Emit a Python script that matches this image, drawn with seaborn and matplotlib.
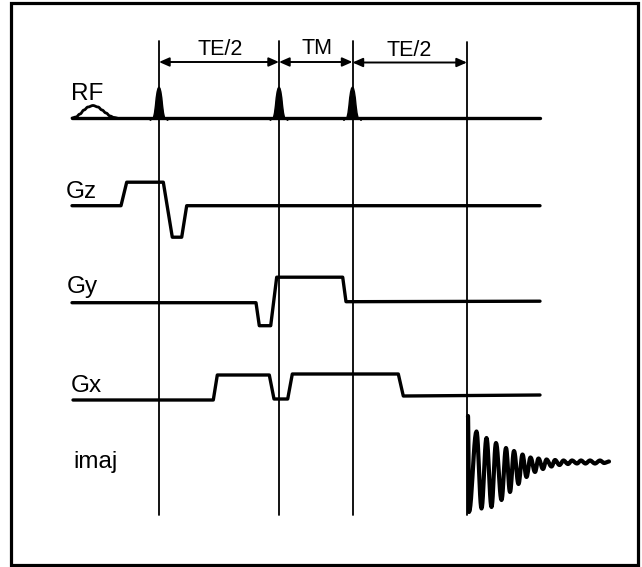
import numpy as np
import pandas as pd
import matplotlib
matplotlib.use("Agg")
import matplotlib.pyplot as plt
from matplotlib.patches import Rectangle, Polygon
import seaborn as sns

# ---- sequence timing (time axis of the diagram) ----
event_t = [159, 279, 352.5, 467]          # RF pulse centres and echo
interval_labels = ["TE/2", "TM", "TE/2"]

# ---- gradient waveforms: breakpoint times and amplitudes (positive = up) ----
gz_t = [72, 121, 126.7, 163.3, 172.3, 181.7, 186.7, 540]
gz_a = [0, 0, 23.5, 23.5, -31.5, -31.5, 0, 0]

gy_t = [72, 256, 259.3, 270.7, 276.7, 342.7, 346, 540]
gy_a = [0, 0, -23, -23, 25.5, 25.5, 1, 1.5]

gx_t = [73, 213.3, 217.3, 269.3, 274, 287.7, 292.3, 398.3, 403.3, 540]
gx_a = [0, 0, 25, 25, 1, 1, 26, 26, 4, 5]

# ---- RF channel ----
rf_t = [72, 540]
rf_a = [0, 0]
gauss_t = [72, 76, 80, 84, 88, 93, 98, 102, 106, 110, 114, 117]
gauss_a = [0, 1, 4, 8, 11, 12.5, 11, 8, 5, 2, 0.5, 0]
pulse_dt = [-10, -8.5, -7, -5.5, -4.5, -3.6, -2.8, -1.9, -1, 0, 1, 1.9, 2.8, 3.6, 4.5, 5.5, 7, 8.5, 10]
pulse_a = [0, -2.5, 0, 0.5, 5, 12, 20, 26, 29.5, 31, 29.5, 26, 20, 12, 5, 0.5, 0, -2.5, 0]

# ---- signal (echo) : successive extrema of the decaying oscillation ----
fid_t = [468, 469, 476.5, 481.5, 486.5, 491.5, 496, 501.5, 506, 510, 514, 518.5,
         522.5, 526.5, 530.5, 535, 538.5, 543, 546.5, 551.5, 555, 559.5, 563.5,
         568, 572, 577, 581, 585.5, 590, 595, 600, 604, 609]
fid_a = [46, -50, 30.5, -46.5, 24, -45, 19, -38, 14, -30, 11, -22,
         7.5, -15, 4.5, -10, 3.5, -7, 2.5, -4.5, 2, -3, 1.5, -2,
         1.5, -1.5, 1.5, -1.5, 1.5, -1.5, 1.5, -1, 0.5]

channel_names = ["RF", "Gz", "Gy", "Gx", "imaj"]

# ---- layout (figure pixel frame) ----
W, H = 642, 567
base_y = {"RF": 118, "Gz": 205.7, "Gy": 302.7, "Gx": 400, "imaj": 462}
label_xy = {"RF": (71, 100.5), "Gz": (66, 198.5), "Gy": (67, 293), "Gx": (71, 392.5), "imaj": (73, 468)}
line_top = [40.7, 40.7, 40.7, 42]
line_bottom = 515
arrow_y = [62, 62, 62.5]
interval_label_xy = [(220.5, 55), (316.7, 53.5), (409, 56)]


def smooth_through(tx, ay):
    """Half-cosine segments joining successive extrema."""
    xs, ys = [tx[0]], [ay[0]]
    for (x0, y0), (x1, y1) in zip(zip(tx[:-1], ay[:-1]), zip(tx[1:], ay[1:])):
        s = np.linspace(0, 1, 12)[1:]
        xs.extend(x0 + (x1 - x0) * s)
        ys.extend(y0 + (y1 - y0) * (1 - np.cos(np.pi * s)) / 2)
    return np.array(xs), np.array(ys)


sns.set_theme(style="white")
plt.rcParams["font.family"] = ["Liberation Sans", "DejaVu Sans"]

fig = plt.figure(figsize=(W / 100, H / 100), dpi=100)
ax = fig.add_axes([0, 0, 1, 1])
ax.set_xlim(0, W)
ax.set_ylim(H, 0)
ax.axis("off")

# gradient + RF baselines as one long table
frames = []
for name, t, a in [("RF", rf_t, rf_a), ("Gz", gz_t, gz_a), ("Gy", gy_t, gy_a), ("Gx", gx_t, gx_a)]:
    frames.append(pd.DataFrame({"t": t, "y": base_y[name] - np.asarray(a, float), "channel": name}))
wave = pd.concat(frames, ignore_index=True)
sns.lineplot(data=wave, x="t", y="y", units="channel", estimator=None, sort=False,
             color="black", lw=2.4, ax=ax, legend=False)

# slice-selective gaussian RF
gx_s, ga_s = smooth_through(gauss_t, gauss_a)
ax.plot(gx_s, base_y["RF"] - ga_s, color="black", lw=2.0, solid_capstyle="round")

# hard RF pulses (filled)
for tc in event_t[:3]:
    px = tc + np.asarray(pulse_dt)
    py = base_y["RF"] - np.asarray(pulse_a)
    ax.add_patch(Polygon(np.column_stack([px, py]), closed=True, facecolor="black",
                         edgecolor="black", lw=1.0))

# echo signal
fx, fy = smooth_through(fid_t, fid_a)
ax.plot(fx, base_y["imaj"] - fy, color="black", lw=3.0, solid_joinstyle="round")

# timing lines
for tc, top in zip(event_t, line_top):
    ax.plot([tc, tc], [top, line_bottom], color="black", lw=1.3)

# interval arrows and labels
for i, lab in enumerate(interval_labels):
    x0, x1 = event_t[i], event_t[i + 1]
    ax.annotate("", xy=(x1, arrow_y[i]), xytext=(x0, arrow_y[i]),
                arrowprops=dict(arrowstyle="<|-|>,head_length=0.5,head_width=0.22",
                                color="black", lw=1.4, shrinkA=0, shrinkB=0))
    lx, ly = interval_label_xy[i]
    ax.text(lx, ly, lab, ha="center", va="baseline", fontsize=15.5, color="black")

# channel labels
for name in channel_names:
    lx, ly = label_xy[name]
    ax.text(lx, ly, name, ha="left", va="baseline", fontsize=17.5, color="black")

# frame
ax.add_patch(Rectangle((10.5, 3), 627.5, 561.5, fill=False, edgecolor="black", lw=2.3))

fig.savefig("out.png", dpi=100)
